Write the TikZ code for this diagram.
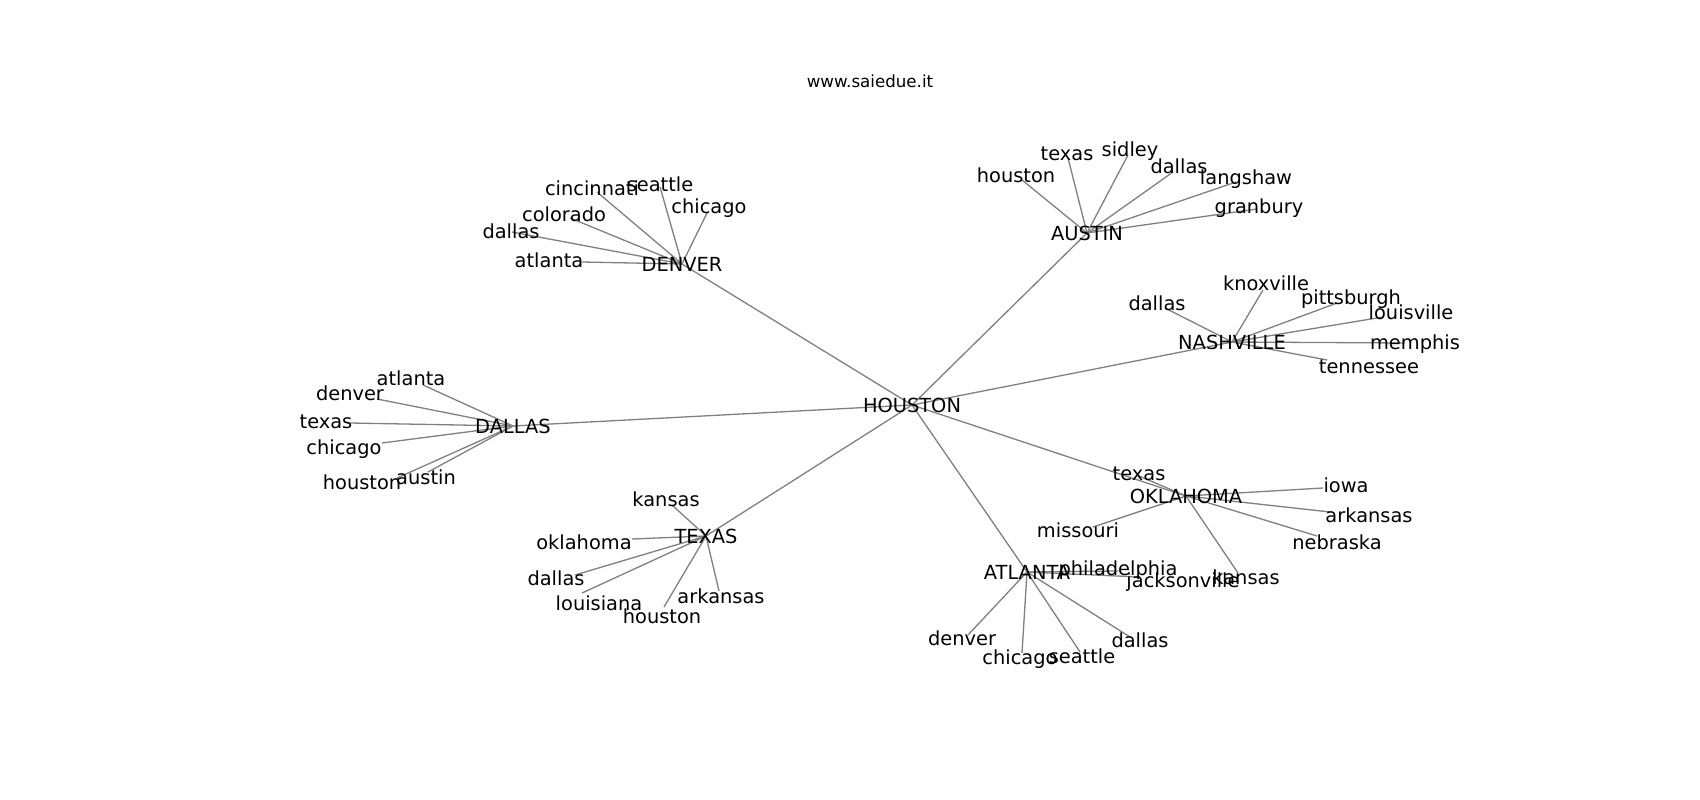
\documentclass[tikz,border=0pt]{standalone}
\usepackage{fontspec}
\setmainfont{DejaVu Sans}
\definecolor{edgegray}{HTML}{808080}
\pgfdeclarelayer{bg}
\pgfsetlayers{bg,main}
\tikzset{
  lbl/.style={inner sep=0pt, text height=0.76em, text depth=0.24em, anchor=center,
              yshift=-5pt, font=\fontsize{19.4}{23}\selectfont, text=black},
  ttl/.style={inner sep=0pt, anchor=center, font=\fontsize{16.67}{20}\selectfont, text=black},
  edge/.style={draw=edgegray, line width=1.3pt}
}
\newcommand{\leafnode}[7]{%
  \coordinate (#1) at (#3,#4);
  \node[lbl] (#1-t) at (#5,#6) {#7};
  \begin{pgfonlayer}{bg}\draw[edge] (#2) -- (#1);\end{pgfonlayer}
}
\begin{document}
\begin{tikzpicture}[x=1pt,y=-1pt]
\begin{pgfonlayer}{bg}
  \fill[white] (0,0) rectangle (1700,800);
\end{pgfonlayer}
\useasboundingbox (0,0) rectangle (1700,800);

\node[ttl] (title) at (870,81) {www.saiedue.it};

% hub positions (edge ends) and their labels
\coordinate (HOU) at (912,405);
\coordinate (DEN) at (682,264);
\coordinate (AUS) at (1087,233);
\coordinate (NAS) at (1232,342);
\coordinate (DAL) at (513,426);
\coordinate (TEX) at (706,536);
\coordinate (OKL) at (1186,496);
\coordinate (ATL) at (1027,572);
\node[lbl] (HOU-t) at (HOU) {HOUSTON};
\node[lbl] (DEN-t) at (DEN) {DENVER};
\node[lbl] (AUS-t) at (AUS) {AUSTIN};
\node[lbl] (NAS-t) at (NAS) {NASHVILLE};
\node[lbl] (DAL-t) at (DAL) {DALLAS};
\node[lbl] (TEX-t) at (TEX) {TEXAS};
\node[lbl] (OKL-t) at (OKL) {OKLAHOMA};
\node[lbl] (ATL-t) at (ATL) {ATLANTA};

\begin{pgfonlayer}{bg}
  \foreach \h in {DEN,AUS,NAS,DAL,TEX,OKL,ATL}
    \draw[edge] (HOU) -- (\h);
\end{pgfonlayer}

% DENVER
\leafnode{d1}{DEN}{597}{192}{592}{188}{cincinnati}
\leafnode{d2}{DEN}{660}{187}{660}{184}{seattle}
\leafnode{d3}{DEN}{707}{213}{709}{206}{chicago}
\leafnode{d4}{DEN}{570}{218}{564}{214}{colorado}
\leafnode{d5}{DEN}{512}{232}{511}{231}{dallas}
\leafnode{d6}{DEN}{582}{262}{549}{260}{atlanta}

% AUSTIN
\leafnode{a1}{AUS}{1022}{180}{1016}{175}{houston}
\leafnode{a2}{AUS}{1068}{158}{1067}{153}{texas}
\leafnode{a3}{AUS}{1128}{155}{1130}{149}{sidley}
\leafnode{a4}{AUS}{1173}{172}{1179}{166}{dallas}
\leafnode{a5}{AUS}{1236}{182}{1246}{177}{langshaw}
\leafnode{a6}{AUS}{1257}{209}{1259}{206}{granbury}

% NASHVILLE
\leafnode{n1}{NAS}{1165}{308}{1157}{303}{dallas}
\leafnode{n2}{NAS}{1263}{290}{1266}{283}{knoxville}
\leafnode{n3}{NAS}{1337}{303}{1351}{297}{pittsburgh}
\leafnode{n4}{NAS}{1383}{317}{1411}{312}{louisville}
\leafnode{n5}{NAS}{1405}{343}{1415}{342}{memphis}
\leafnode{n6}{NAS}{1327}{360}{1369}{366}{tennessee}

% DALLAS
\leafnode{l1}{DAL}{423}{385}{411}{378}{atlanta}
\leafnode{l2}{DAL}{377}{399}{350}{393}{denver}
\leafnode{l3}{DAL}{350}{423}{326}{421}{texas}
\leafnode{l4}{DAL}{382}{443}{344}{447}{chicago}
\leafnode{l5}{DAL}{397}{478}{362}{482}{houston}
\leafnode{l6}{DAL}{428}{472}{426}{477}{austin}

% TEXAS
\leafnode{t1}{TEX}{672}{505}{666}{499}{kansas}
\leafnode{t2}{TEX}{632}{539}{584}{542}{oklahoma}
\leafnode{t3}{TEX}{575}{575}{556}{578}{dallas}
\leafnode{t4}{TEX}{582}{593}{599}{603}{louisiana}
\leafnode{t5}{TEX}{664}{607}{662}{616}{houston}
\leafnode{t6}{TEX}{719}{591}{721}{596}{arkansas}

% OKLAHOMA
\leafnode{o1}{OKL}{1139}{476}{1139}{473}{texas}
\leafnode{o2}{OKL}{1323}{488}{1346}{485}{iowa}
\leafnode{o3}{OKL}{1330}{512}{1369}{515}{arkansas}
\leafnode{o4}{OKL}{1317}{536}{1337}{542}{nebraska}
\leafnode{o5}{OKL}{1093}{527}{1078}{530}{missouri}
\leafnode{o6}{OKL}{1238}{573}{1246}{577}{kansas}

% ATLANTA
\leafnode{g1}{ATL}{1118}{571}{1118}{568}{philadelphia}
\leafnode{g2}{ATL}{1140}{577}{1183}{580}{jacksonville}
\leafnode{g3}{ATL}{968}{635}{962}{638}{denver}
\leafnode{g4}{ATL}{1022}{653}{1020}{657}{chicago}
\leafnode{g5}{ATL}{1080}{652}{1082}{656}{seattle}
\leafnode{g6}{ATL}{1130}{637}{1140}{640}{dallas}
\end{tikzpicture}
\end{document}
